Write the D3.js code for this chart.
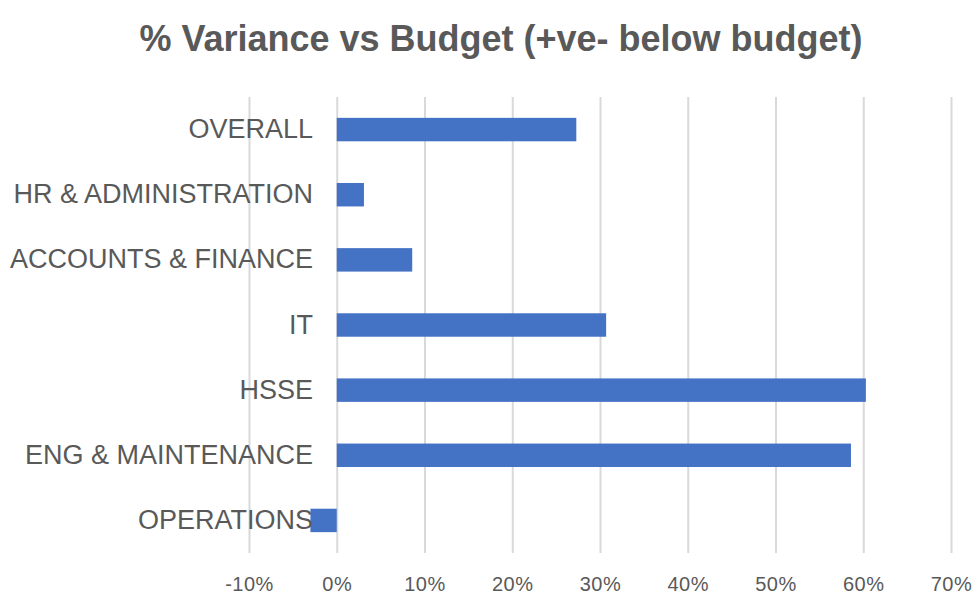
<!DOCTYPE html>
<html>
<head>
<meta charset="utf-8">
<script src="https://cdn.jsdelivr.net/npm/d3@7"></script>
<style>
  html, body { margin: 0; padding: 0; background: #fff; }
  svg { display: block; }
</style>
</head>
<body>
<div id="chart"></div>
<script>
  // Chart data
  const categories = ['OVERALL', 'HR & ADMINISTRATION', 'ACCOUNTS & FINANCE', 'IT', 'HSSE', 'ENG & MAINTENANCE', 'OPERATIONS'];
  const variance = [0.273, 0.031, 0.086, 0.307, 0.603, 0.586, -0.030];
  const tickValues = [-0.1, 0, 0.1, 0.2, 0.3, 0.4, 0.5, 0.6, 0.7];

  const width = 976, height = 599;
  const margin = { top: 97, right: 25, bottom: 46, left: 249 };

  const svg = d3.select('#chart')
    .append('svg')
    .attr('width', width)
    .attr('height', height);

  const x = d3.scaleLinear()
    .domain([-0.1, 0.7])
    .range([margin.left, width - margin.right]);

  const y = d3.scaleBand()
    .domain(categories)
    .range([margin.top, height - margin.bottom])
    .paddingInner(0.64)
    .paddingOuter(0.32);

  // Title
  svg.append('text')
    .attr('x', 501)
    .attr('y', 51)
    .attr('text-anchor', 'middle')
    .style('font-family', '"Liberation Sans", Arial, sans-serif')
    .style('font-weight', 'bold')
    .style('font-size', '36px')
    .style('fill', '#595959')
    .text('% Variance vs Budget (+ve- below budget)');

  // Vertical grid + tick labels
  const pct = d => Math.round(d * 100) + '%';
  const xAxis = d3.axisBottom(x)
    .tickValues(tickValues)
    .tickSize(-(height - margin.bottom - margin.top))
    .tickFormat(pct);

  svg.append('g')
    .attr('transform', `translate(0,${height - margin.bottom})`)
    .call(xAxis)
    .call(g => g.select('.domain').remove())
    .call(g => g.selectAll('.tick line')
      .attr('stroke', '#d9d9d9')
      .attr('stroke-width', 2))
    .call(g => g.selectAll('.tick text')
      .attr('y', 38)
      .attr('dy', 0)
      .style('font-family', '"Liberation Sans Narrow", "Liberation Sans", Arial, sans-serif')
      .style('font-size', '20px')
      .style('letter-spacing', '0.5px')
      .style('fill', '#595959'));

  // Bars
  svg.selectAll('.bar')
    .data(categories.map((c, i) => ({ c, v: variance[i] })))
    .join('rect')
    .attr('class', 'bar')
    .attr('x', d => x(Math.min(0, d.v)))
    .attr('y', d => y(d.c))
    .attr('width', d => Math.abs(x(d.v) - x(0)))
    .attr('height', y.bandwidth())
    .attr('fill', '#4472c4');

  // Category labels
  svg.append('g')
    .attr('transform', 'translate(313,0)')
    .call(d3.axisLeft(y).tickSize(0).tickPadding(0))
    .call(g => g.select('.domain').remove())
    .call(g => g.selectAll('.tick text')
      .style('font-family', '"Liberation Sans", Arial, sans-serif')
      .style('font-size', '27px')
      .style('fill', '#595959'));
</script>
</body>
</html>
